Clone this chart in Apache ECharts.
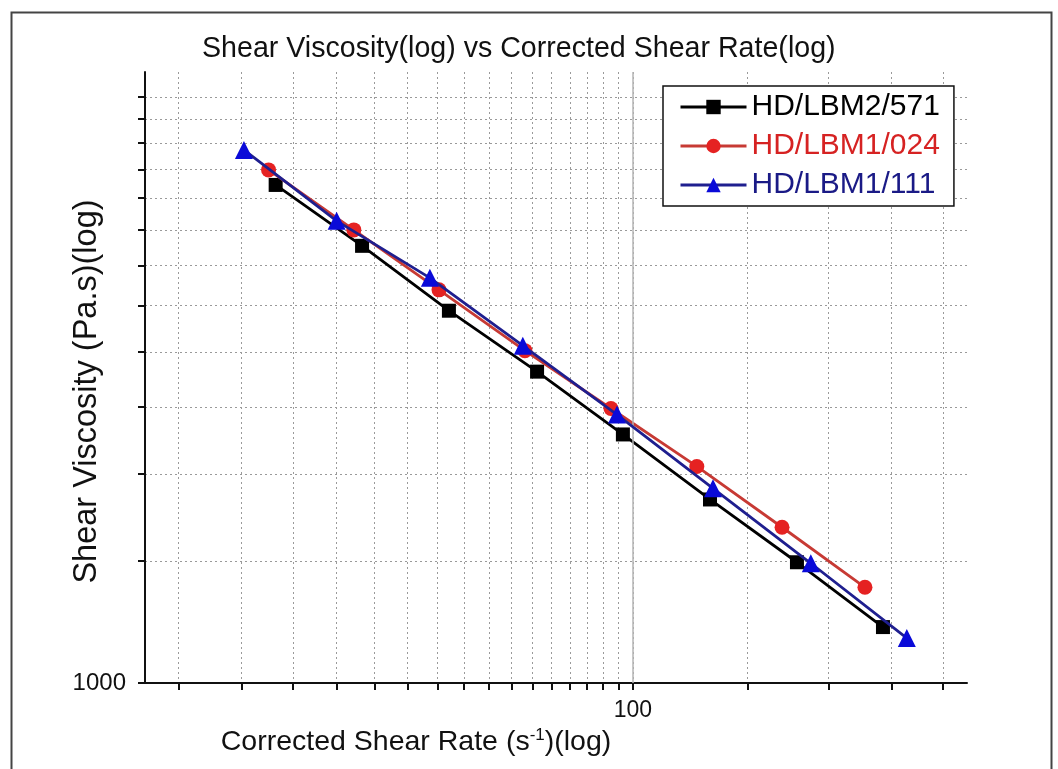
<!DOCTYPE html>
<html>
<head>
<meta charset="utf-8">
<script src="https://cdn.jsdelivr.net/npm/echarts@6/dist/echarts.min.js"></script>
<style>
html,body{margin:0;padding:0;background:#fff;}
#chart{width:1058px;height:769px;}
</style>
</head>
<body>
<div id="chart"></div>
<script>
// ---- data ----
const seriesNames = ['HD/LBM2/571', 'HD/LBM1/024', 'HD/LBM1/111'];
const rate571 = [28.2, 38.3, 52.1, 71.2, 96.5, 131.4, 178.8, 242.5];
const visc571 = [5224, 4268, 3441, 2811, 2282, 1839, 1493, 1204];
const rate024 = [27.5, 37.2, 50.3, 68.2, 92.5, 125.4, 169.6, 227.5];
const visc024 = [5491, 4500, 3688, 3014, 2487, 2052, 1677, 1374];
const rate111 = [25.2, 35.0, 48.7, 67.7, 94.5, 132.8, 187.8, 263.9];
const visc111 = [5867, 4637, 3838, 3064, 2438, 1908, 1488, 1161];
const xTickValues = [20,25,30,35,40,45,50,55,60,65,70,75,80,85,90,95,100,150,200,250,300];
const xLabelValues = [100];
const yTickValues = [1000,1500,2000,2500,3000,3500,4000,4500,5000,5500,6000,6500,7000];
const yLabelValues = [1000];

const zip = (a, b) => a.map((v, i) => [v, b[i]]);

const chart = echarts.init(document.getElementById('chart'));
const FONT = 'Liberation Sans, Arial, sans-serif';

chart.setOption({
  backgroundColor: '#fff',
  animation: false,
  title: {
    text: 'Shear Viscosity(log) vs Corrected Shear Rate(log)',
    left: 197, top: 30,
    textStyle: {fontFamily: FONT, fontSize: 28.6, fontWeight: 'normal', color: '#111'}
  },
  graphic: [{
    type: 'rect', left: 9, top: 10, silent: true,
    shape: {width: 1040, height: 790},
    style: {fill: 'none', stroke: '#444', lineWidth: 2}
  }],
  legend: {
    orient: 'vertical', left: 663, top: 86,
    padding: [6, 14, 6, 16], itemGap: 9,
    itemWidth: 66, itemHeight: 18,
    borderColor: '#111', borderWidth: 1.5, backgroundColor: '#fff',
    lineStyle: {width: 3},
    textStyle: {fontFamily: FONT, fontSize: 30},
    data: [
      {name: seriesNames[0], textStyle: {color: '#000'}},
      {name: seriesNames[1], textStyle: {color: '#d62222'}},
      {name: seriesNames[2], textStyle: {color: '#1a1a86'}}
    ]
  },
  grid: {left: 145, right: 91, top: 72, bottom: 86, containLabel: false},
  xAxis: {
    type: 'log', logBase: 10, min: 17.75, max: 326.6,
    name: 'Corrected Shear Rate (s{sup|-1})(log)',
    nameLocation: 'middle', nameGap: 38,
    nameTextStyle: {
      fontFamily: FONT, fontSize: 28.5, color: '#111',
      padding: [0, 280, 0, 0],
      rich: {sup: {fontFamily: FONT, fontSize: 17, color: '#111', padding: [0, 0, 14, 0]}}
    },
    axisLine: {lineStyle: {color: '#111', width: 2}},
    axisTick: {show: true, inside: false, length: 7, customValues: xTickValues, lineStyle: {color: '#111', width: 2}},
    axisLabel: {customValues: xLabelValues, formatter: v => String(v), fontFamily: FONT, fontSize: 23, color: '#111', margin: 16},
    splitLine: {show: true, lineStyle: {color: '#9a9a9a', type: [2, 3], width: 1}},
    minorTick: {show: false}
  },
  yAxis: {
    type: 'log', logBase: 10, min: 1000, max: 7600,
    name: 'Shear Viscosity (Pa.s)(log)',
    nameLocation: 'middle', nameGap: 41, nameMoveOverlap: false,
    nameTextStyle: {fontFamily: FONT, fontSize: 32.5, color: '#111', padding: [0, 28, 0, 0]},
    axisLine: {show: true, lineStyle: {color: '#111', width: 2}},
    axisTick: {show: true, inside: false, length: 7, customValues: yTickValues, lineStyle: {color: '#111', width: 2}},
    axisLabel: {customValues: yLabelValues, formatter: v => String(v), fontFamily: FONT, fontSize: 24, color: '#111', margin: 19},
    splitLine: {show: true, lineStyle: {color: '#9a9a9a', type: [2, 3], width: 1}}
  },
  series: [
    {
      name: seriesNames[0], type: 'line', data: zip(rate571, visc571),
      symbol: 'rect', symbolSize: 14,
      lineStyle: {color: '#000', width: 2.8},
      itemStyle: {color: '#000'},
      markLine: {
        silent: true, symbol: 'none', label: {show: false},
        lineStyle: {color: '#b5b5b5', type: 'solid', width: 1.5},
        data: [{xAxis: 100}]
      },
      z: 3
    },
    {
      name: seriesNames[1], type: 'line', data: zip(rate024, visc024),
      symbol: 'circle', symbolSize: 15,
      lineStyle: {color: '#c73a34', width: 2.8},
      itemStyle: {color: '#e52222'},
      z: 4
    },
    {
      name: seriesNames[2], type: 'line', data: zip(rate111, visc111),
      symbol: 'triangle', symbolSize: 18,
      lineStyle: {color: '#1f1f8f', width: 2.8},
      itemStyle: {color: '#0a0ad8'},
      z: 5
    }
  ]
});
</script>
</body>
</html>
